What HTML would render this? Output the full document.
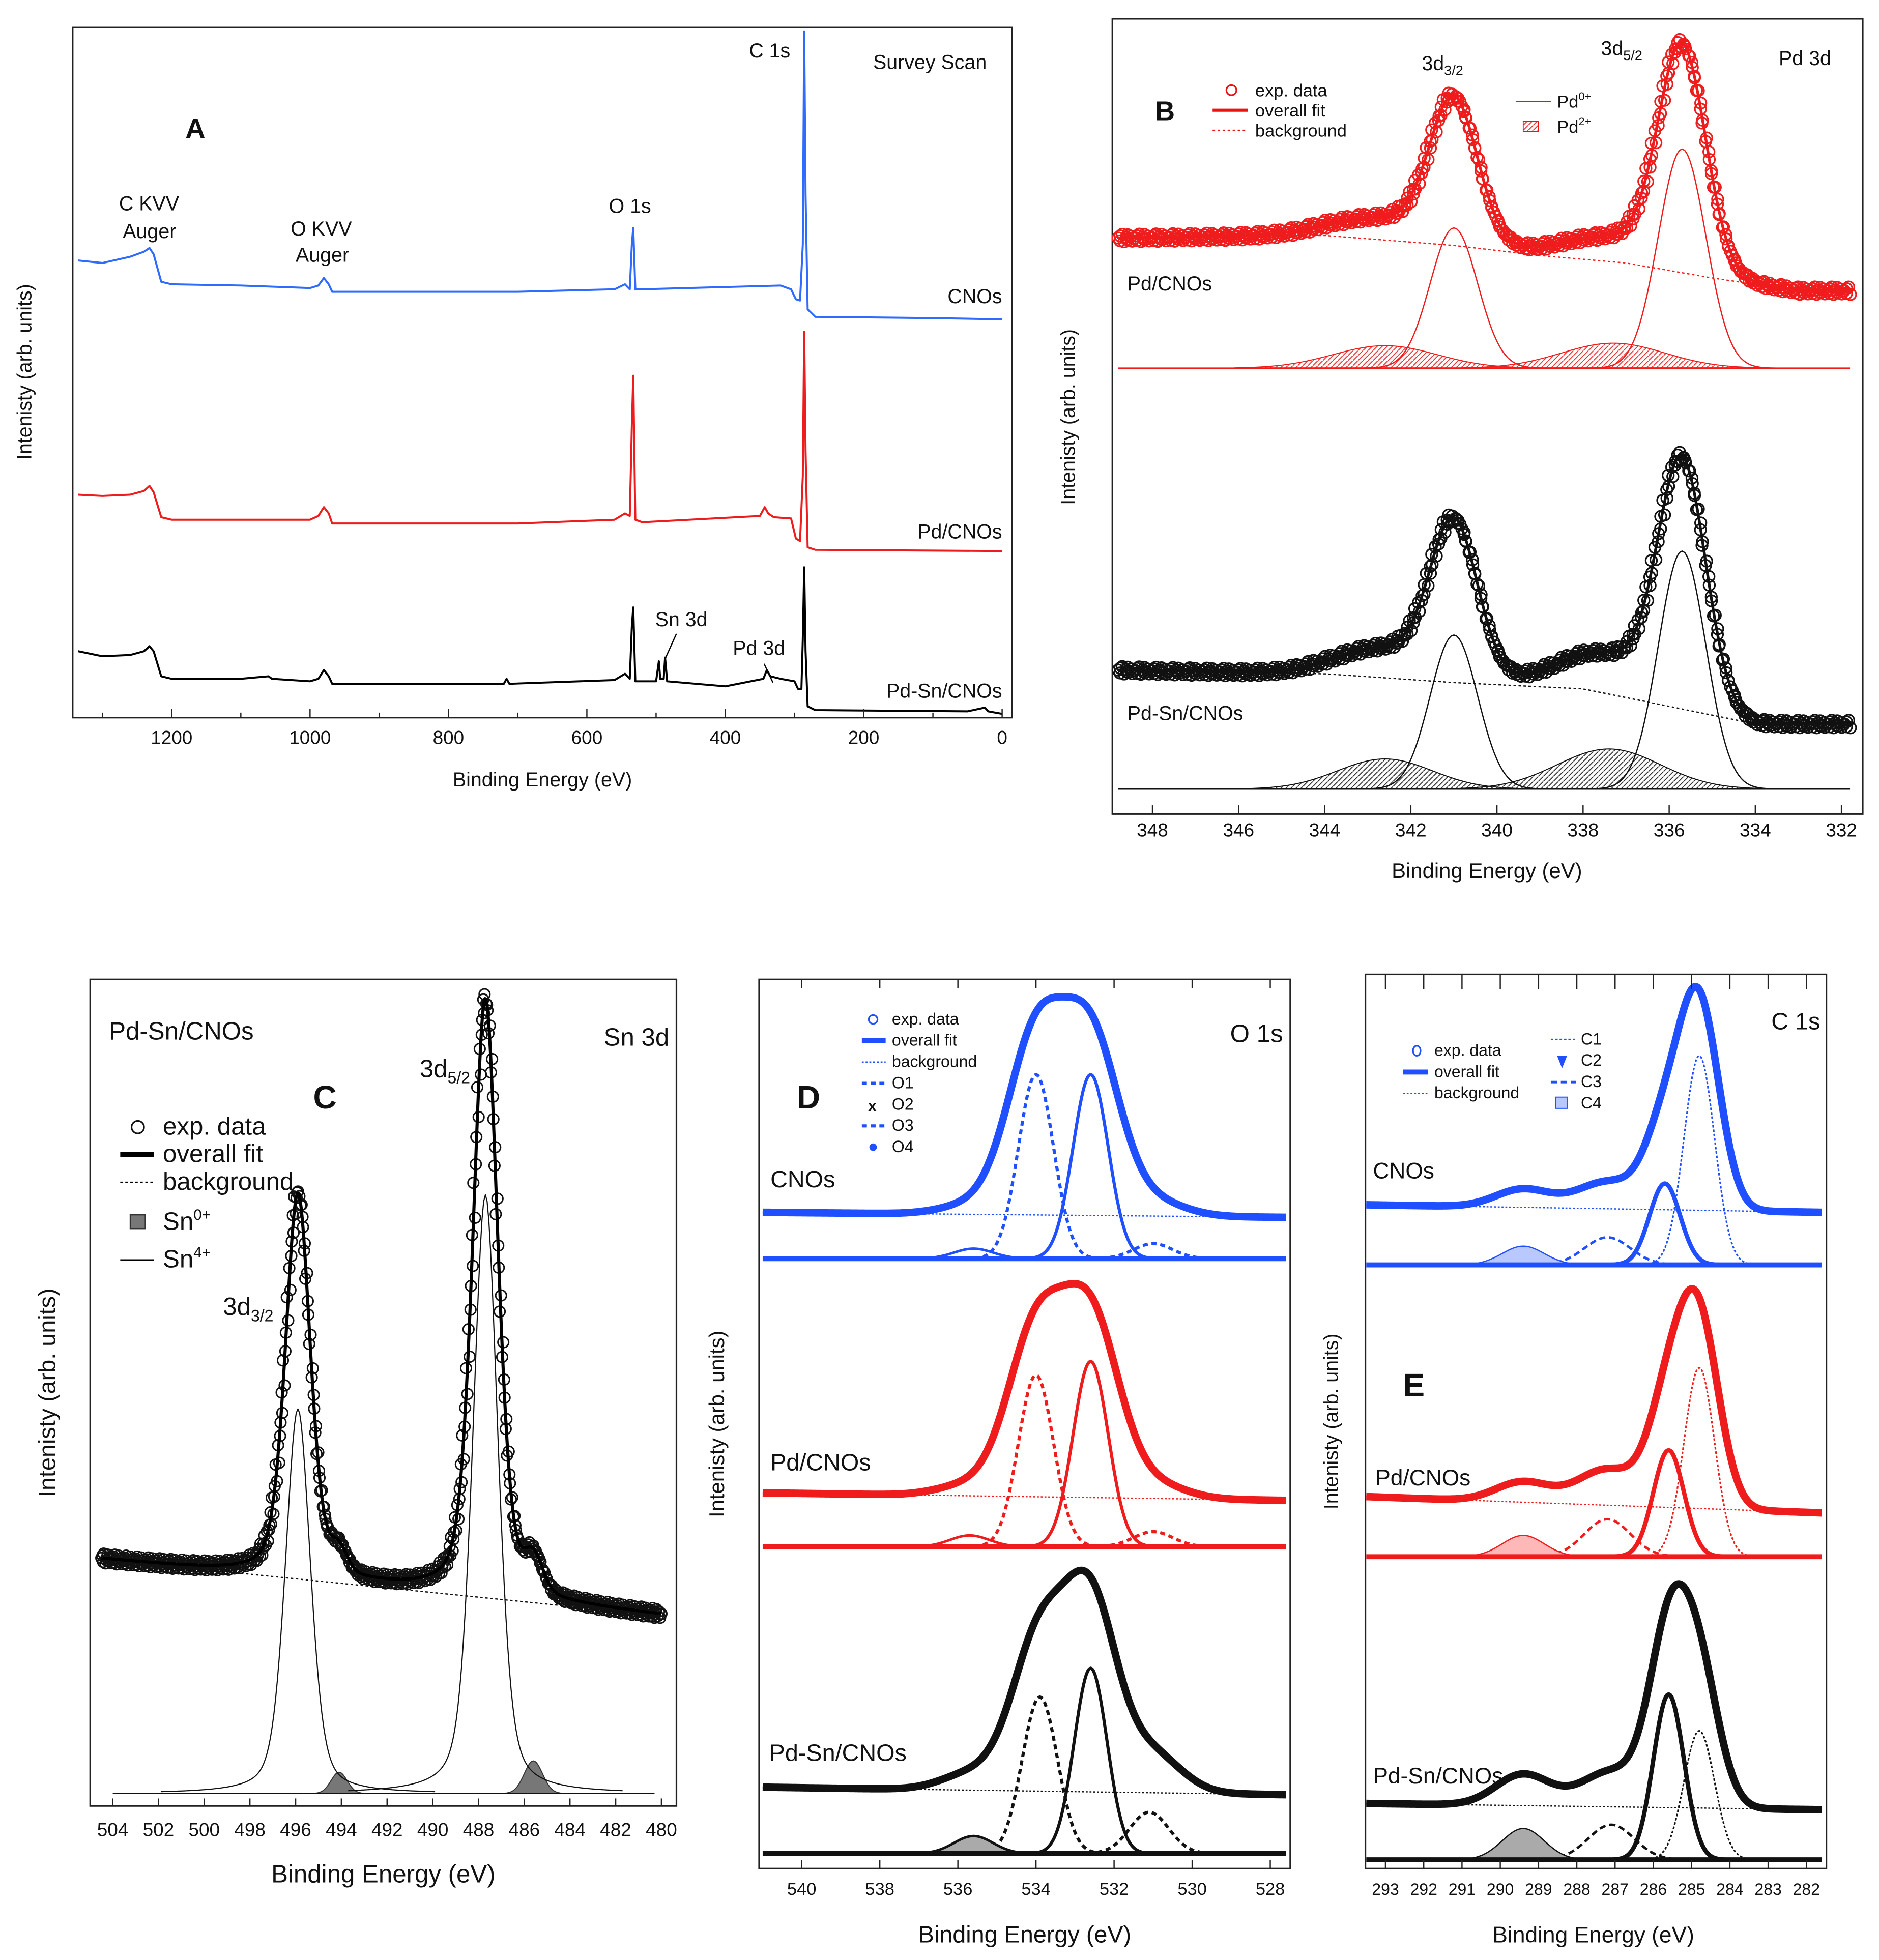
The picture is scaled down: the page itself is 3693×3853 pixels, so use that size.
<!DOCTYPE html>
<html><head><meta charset="utf-8">
<style>
html,body{margin:0;padding:0;background:#fff;}
svg{display:block;}
text{font-family:"Liberation Sans",sans-serif;fill:#111;}
.n{font-family:"Liberation Sans Narrow","Liberation Sans",sans-serif;}
</style></head>
<body>
<svg id="fig" width="3693" height="3853" viewBox="0 0 1500 1565" preserveAspectRatio="none" xmlns="http://www.w3.org/2000/svg">
<defs>
<pattern id="hatchR" patternUnits="userSpaceOnUse" width="4" height="4"><path d="M0,4 L4,0" stroke="#e33" stroke-width="0.8"/></pattern>
<pattern id="hatchK" patternUnits="userSpaceOnUse" width="4" height="4"><path d="M0,4 L4,0" stroke="#333" stroke-width="0.8"/></pattern>
</defs>
</svg>
<script>
// ===== Panel A survey data: [binding energy, intensity] =====
const surveyCNOs=[[1335,47],[1300,45],[1260,50],[1240,54],[1232,57],[1226,52],[1215,30],[1200,28],[1100,27],[1000,25],[988,27],[980,33],[973,28],[968,22],[700,22],[560,24],[545,28],[538,24],[535,60],[533,73],[530,24],[520,24],[320,27],[305,24],[298,16],[292,15],[288,60],[286,230],[284,100],[281,8],[270,2],[100,1],[0,0]];
const surveyPd=[[1335,45],[1300,44],[1260,45],[1240,48],[1232,52],[1226,47],[1215,27],[1200,25],[1100,25],[1000,25],[988,28],[980,35],[973,30],[968,22],[700,22],[560,25],[545,30],[538,28],[535,100],[533,140],[530,25],[520,23],[350,28],[343,35],[338,30],[330,27],[305,26],[298,10],[292,8],[288,60],[286,175],[284,80],[281,3],[270,1],[0,0]];
const surveySnPd=[[1335,50],[1300,46],[1260,47],[1240,50],[1232,54],[1226,50],[1215,30],[1200,28],[1100,28],[1060,30],[1055,28],[1000,26],[988,28],[980,35],[973,30],[968,24],[720,24],[716,28],[712,24],[560,27],[545,32],[538,28],[535,70],[533,85],[530,26],[500,26],[496,42],[494,28],[489,28],[487,45],[484,26],[400,22],[345,28],[340,35],[335,30],[320,28],[300,26],[295,20],[290,20],[288,60],[286,117],[284,50],[281,6],[270,3],[50,2],[25,5],[20,2],[0,0]];
const surveyTicks=[1200,1000,800,600,400,200,0];

// ===== Panel B Pd 3d =====
const bRedPd0=[[341.0,112,0.55],[335.7,175,0.55]];
const bRedPd2=[[342.6,18,1.2],[337.3,20,1.2]];
const bRedBg=[[348.8,104],[344,106],[341,98],[339,90],[337,84],[335,72],[333,62],[331.8,62]];
const bBlkPd0=[[341.0,123,0.55],[335.7,190,0.55]];
const bBlkPd2=[[342.6,24,1.1],[337.4,32,1.2]];
const bBlkBg=[[348.8,95],[344,92],[341,85],[338,80],[336,66],[334,52],[331.8,52]];
const bTicks=[348,346,344,342,340,338,336,334,332];

// ===== Panel C Sn 3d =====
const cSn4=[[495.9,307,0.55],[487.7,478,0.55]];
const cSn0=[[494.1,17,0.35],[485.6,26,0.4]];
const cBg=[[504.5,187],[480,142]];
const cTicks=[504,502,500,498,496,494,492,490,488,486,484,482,480];

// ===== Panel D O 1s =====
const dCNOs=[[534.0,147,0.45],[532.6,147,0.45],[531.0,12,0.5],[535.6,8,0.5]];
const dPd=[[534.0,137,0.45],[532.6,148,0.45],[531.0,12,0.5],[535.7,9,0.5]];
const dPdSn=[[533.9,125,0.45],[532.6,148,0.42],[531.1,33,0.5],[535.6,14,0.5]];
const dBgCNOs=[37,33], dBgPd=[43,37], dBgPdSn=[53,47];
const dTicks=[540,538,536,534,532,530,528];

// ===== Panel E C 1s =====
const eCNOs=[[284.8,167,0.4],[285.7,65,0.4],[287.2,22,0.6],[289.4,15,0.55]];
const ePd=[[284.8,151,0.4],[285.6,85,0.4],[287.2,30,0.6],[289.4,17,0.55]];
const ePdSn=[[284.8,103,0.4],[285.6,132,0.4],[287.1,28,0.6],[289.4,25,0.55]];
const eBgCNOs=[48,42], eBgPd=[48,35], eBgPdSn=[45,40];
const eTicks=[293,292,291,290,289,288,287,286,285,284,283,282];

const NS="http://www.w3.org/2000/svg";
const svg=document.getElementById('fig');
function mk(tag,parent){const e=document.createElementNS(NS,tag);(parent||svg).appendChild(e);return e;}
function txt(s,x,y,size,opts){const t=mk('text');t.setAttribute('x',x);t.setAttribute('y',y);t.setAttribute('font-size',size);
 if(opts&&opts.anchor)t.setAttribute('text-anchor',opts.anchor);if(opts&&opts.weight)t.setAttribute('font-weight',opts.weight);
 if(opts&&opts.cls)t.setAttribute('class',opts.cls);if(opts&&opts.rot)t.setAttribute('transform','rotate(-90 '+x+' '+y+')');
 t.innerHTML=s;return t;}
function gauss(E,c){return c[1]*Math.exp(-(E-c[0])*(E-c[0])/(2*c[2]*c[2]));}
function pvoigt(E,c){const g=c[2]*1.177;return c[1]*(0.6*Math.exp(-(E-c[0])*(E-c[0])/(2*c[2]*c[2]))+0.4*g*g/((E-c[0])*(E-c[0])+g*g));}
function interp(arr,E){for(let i=0;i<arr.length-1;i++){const a=arr[i],b=arr[i+1];if((E<=a[0]&&E>=b[0])||(E>=a[0]&&E<=b[0])){const t=(E-a[0])/(b[0]-a[0]);return a[1]+t*(b[1]-a[1]);}}return arr[arr.length-1][1];}
function path(pts){return pts.map((p,i)=>(i?'L':'M')+p[0].toFixed(2)+','+p[1].toFixed(2)).join('');}
function line(x1,y1,x2,y2,stroke,w,dash){const l=mk('line');l.setAttribute('x1',x1);l.setAttribute('y1',y1);l.setAttribute('x2',x2);l.setAttribute('y2',y2);l.setAttribute('stroke',stroke);l.setAttribute('stroke-width',w);if(dash)l.setAttribute('stroke-dasharray',dash);return l;}
function curve(pts,stroke,w,dash,fill){const p=mk('path');p.setAttribute('d',path(pts)+(fill?'Z':''));p.setAttribute('stroke',stroke);p.setAttribute('stroke-width',w);p.setAttribute('fill',fill||'none');p.setAttribute('stroke-linejoin','round');if(dash)p.setAttribute('stroke-dasharray',dash);return p;}
function frame(x0,y0,x1,y1){const r=mk('rect');r.setAttribute('x',x0);r.setAttribute('y',y0);r.setAttribute('width',x1-x0);r.setAttribute('height',y1-y0);r.setAttribute('fill','none');r.setAttribute('stroke','#222');r.setAttribute('stroke-width',1.3);return r;}
function sample(E0,E1,n,f){const out=[];for(let i=0;i<=n;i++){const E=E0+(E1-E0)*i/n;out.push(f(E));}return out;}
const jit=[0,1.8,-1.2,2.4,-2.2,0.8,-0.4,1.4,-1.9,2.1,-0.9,0.3];

// ================= PANEL A =================
const ax=v=>800-0.5525*v;
let f=frame(58,22,808,573);


[[surveyCNOs,255,'#2f6bff','survey-cnos-line'],[surveyPd,440,'#ee1c1c','survey-pd-cnos-line'],[surveySnPd,570,'#000','survey-pd-sn-cnos-line']].forEach(s=>{
 const c=curve(s[0].map(p=>[ax(p[0]),s[1]-p[1]]),s[2],1.6);
 
 
});
surveyTicks.forEach(v=>{const l=line(ax(v),573,ax(v),566,'#222',1);
 
 
 const t=txt(v,ax(v),594,15,{anchor:'middle'});
 
 });
for(let v=1300;v>0;v-=100){if(v%200){const l=line(ax(v),573,ax(v),569,'#222',1);}}
[['A',148,110,22,'bold','panel-a-label'],['C KVV',95,168,16,null,'c-kvv-label'],['Auger',98,190,16,null,'c-kvv-auger-label'],['O KVV',232,188,16,null,'o-kvv-label'],['Auger',236,209,16,null,'o-kvv-auger-label'],['O 1s',486,170,16,null,'o1s-label'],['C 1s',598,46,16,null,'c1s-label'],['Survey Scan',697,55,16,null,'survey-scan-title'],['Sn 3d',523,500,16,null,'sn3d-label'],['Pd 3d',585,523,16,null,'pd3d-label']].forEach(a=>{
 const t=txt(a[0],a[1],a[2],a[3],{weight:a[4]});
 
 });
[['CNOs',800,242,'cnos-series-label'],['Pd/CNOs',800,430,'pd-cnos-series-label'],['Pd-Sn/CNOs',800,557,'pd-sn-cnos-series-label']].forEach(a=>{
 const t=txt(a[0],a[1],a[2],16,{anchor:'end'});
 
 });
let pl=line(540,506,531,526,'#000',1);


pl=line(610,530,617,545,'#000',1);


let t=txt('Binding Energy (eV)',433,628,16,{anchor:'middle'});


t=txt('Intenisty (arb. units)',25,297,16,{anchor:'middle',rot:true});



// ================= PANEL B =================
const bx=E=>920+(348-E)*34.375;
f=frame(888,15,1487,650);


function drawB(pd0,pd2,bg,base,color,hatch,nm){
 const sum=E=>pd0.reduce((s,c)=>s+gauss(E,c),0)+pd2.reduce((s,c)=>s+gauss(E,c),0);
 pd2.forEach((c,i)=>{const pts=sample(c[0]+3.5,c[0]-3.5,80,E=>[bx(E),base-gauss(E,c)]);
  const a=curve(pts,color,0.8,null,'url(#'+hatch+')');
  
  });
 const bl=line(bx(348.8),base,bx(331.8),base,color,1.2);
 
 
 pd0.forEach(c=>{const pts=sample(c[0]+2.5,c[0]-2.5,80,E=>[bx(E),base-gauss(E,c)]);
  const a=curve(pts,color,1);
  
  });
 const bgp=curve(sample(348.8,331.8,120,E=>[bx(E),base-interp(bg,E)]),color,1,'2,2');
 
 
 const fit=sample(348.8,331.8,520,E=>[bx(E),base-interp(bg,E)-sum(E)]);
 const g=mk('g');
 
 
 for(let i=0;i<fit.length;i++){const c=mk('circle',g);c.setAttribute('cx',fit[i][0]+jit[(i*5)%12]*0.6);c.setAttribute('cy',fit[i][1]+jit[i%12]*1.3);c.setAttribute('r',4.5);c.setAttribute('fill','none');c.setAttribute('stroke',color);c.setAttribute('stroke-width',1.3);}
 const fl=curve(fit,color,2.2);
 
 
}
drawB(bRedPd0,bRedPd2,bRedBg,294,'#ee1c1c','hatchR','b-pd-cnos');
drawB(bBlkPd0,bBlkPd2,bBlkBg,630,'#111','hatchK','b-pd-sn-cnos');
bTicks.forEach(v=>{const l=line(bx(v),650,bx(v),643,'#222',1);
 
 
 const tt=txt(v,bx(v),668,15,{anchor:'middle'});
 
 });
[['B',922,96,22,'bold','panel-b-label'],['Pd 3d',1420,52,16,null,'pd3d-title'],['3d<tspan font-size="11" dy="4">3/2</tspan>',1135,56,16,null,'b-3d32-label'],['3d<tspan font-size="11" dy="4">5/2</tspan>',1278,44,16,null,'b-3d52-label'],['Pd/CNOs',900,232,16,null,'b-pd-cnos-label'],['Pd-Sn/CNOs',900,575,16,null,'b-pd-sn-cnos-label'],['exp. data',1002,77,14,null,'b-legend-exp-data'],['overall fit',1002,93,14,null,'b-legend-overall-fit'],['background',1002,109,14,null,'b-legend-background'],['Pd<tspan font-size="9" dy="-6">0+</tspan>',1243,86,14,null,'b-legend-pd0'],['Pd<tspan font-size="9" dy="-6">2+</tspan>',1243,106,14,null,'b-legend-pd2']].forEach(a=>{
 const tt=txt(a[0],a[1],a[2],a[3],{weight:a[4]});
 
 });
let lc=mk('circle');lc.setAttribute('cx',983);lc.setAttribute('cy',72);lc.setAttribute('r',4);lc.setAttribute('fill','none');lc.setAttribute('stroke','#e11');lc.setAttribute('stroke-width',1.3);


pl=line(968,88,996,88,'#e11',2.5);
pl=line(968,104,996,104,'#e11',1,'2,2');
pl=line(1210,81,1238,81,'#e11',1);
let lr=mk('rect');lr.setAttribute('x',1216);lr.setAttribute('y',97);lr.setAttribute('width',12);lr.setAttribute('height',8);lr.setAttribute('fill','url(#hatchR)');lr.setAttribute('stroke','#e11');lr.setAttribute('stroke-width',0.7);


t=txt('Binding Energy (eV)',1187,701,17,{anchor:'middle'});


t=txt('Intenisty (arb. units)',858,333,16,{anchor:'middle',rot:true});



// ================= PANEL C =================
const cx=E=>90+(504-E)*18.25;
f=frame(72,782,540,1442);


const cBase=1432;
const cSum=E=>cSn4.reduce((s,c)=>s+pvoigt(E,c),0)+cSn0.reduce((s,c)=>s+gauss(E,c),0);
cSn0.forEach(c=>{const a=curve(sample(c[0]+1.3,c[0]-1.3,40,E=>[cx(E),cBase-gauss(E,c)]),'#333',0.8,null,'#777');
 
 });
pl=line(cx(504),cBase,cx(480.3),cBase,'#111',1.2);
cSn4.forEach(c=>{const a=curve(sample(c[0]+6,c[0]-6,160,E=>[cx(E),cBase-pvoigt(E,c)]),'#111',0.9);
 
 });
let cb=curve(sample(504.5,480,60,E=>[cx(E),cBase-interp(cBg,E)]),'#111',1,'2,2');


{const fit=sample(504.5,480,600,E=>[cx(E),cBase-interp(cBg,E)-cSum(E)]);
 const g=mk('g');
 
 
 fit.forEach((p,i)=>{const c=mk('circle',g);c.setAttribute('cx',p[0]+jit[(i*7)%12]*0.5);c.setAttribute('cy',p[1]+jit[i%12]*1.7);c.setAttribute('r',4.3);c.setAttribute('fill','none');c.setAttribute('stroke','#111');c.setAttribute('stroke-width',1.2);});
 const fl=curve(fit,'#000',2.5);
 
 }
cTicks.forEach(v=>{const l=line(cx(v),1442,cx(v),1436,'#222',1);
 
 
 const tt=txt(v,cx(v),1466,15,{anchor:'middle',cls:'n'});
 
 });
[['Pd-Sn/CNOs',87,830,20,null,'c-sample-label'],['Sn 3d',482,835,20,null,'sn3d-title'],['C',250,885,26,'bold','panel-c-label'],['3d<tspan font-size="13" dy="5">5/2</tspan>',335,860,20,null,'c-3d52-label'],['3d<tspan font-size="13" dy="5">3/2</tspan>',178,1050,20,null,'c-3d32-label'],['exp. data',130,906,20,null,'c-legend-exp-data'],['overall fit',130,928,20,null,'c-legend-overall-fit'],['background',130,950,20,null,'c-legend-background'],['Sn<tspan font-size="12" dy="-8">0+</tspan>',130,982,20,null,'c-legend-sn0'],['Sn<tspan font-size="12" dy="-8">4+</tspan>',130,1012,20,null,'c-legend-sn4']].forEach(a=>{
 const tt=txt(a[0],a[1],a[2],a[3],{weight:a[4],cls:'n'});
 
 });
lc=mk('circle');lc.setAttribute('cx',110);lc.setAttribute('cy',900);lc.setAttribute('r',5);lc.setAttribute('fill','none');lc.setAttribute('stroke','#111');lc.setAttribute('stroke-width',1.3);


pl=line(96,922,123,922,'#000',4);
pl=line(96,944,123,944,'#000',1,'2,2');
lr=mk('rect');lr.setAttribute('x',104);lr.setAttribute('y',970);lr.setAttribute('width',12);lr.setAttribute('height',11);lr.setAttribute('fill','#777');lr.setAttribute('stroke','#333');


pl=line(96,1006,123,1006,'#000',1);
t=txt('Binding Energy (eV)',306,1503,20,{anchor:'middle',cls:'n'});


t=txt('Intenisty (arb. units)',44,1112,19,{anchor:'middle',rot:true});



// ================= PANELS D & E generic stacks =================
function stack(xf,E0,E1,comps,bg,base,color,k,w,styles,shade,nm){
 const sum=E=>comps.reduce((s,c)=>s+gauss(E,[c[0],c[1],c[2]*w]),0)*k;
 const bgAt=E=>bg[0]+(bg[1]-bg[0])*(E-E0)/(E1-E0);
 comps.forEach((c,i)=>{
  const pts=sample(Math.min(E0,c[0]+4*c[2]),Math.max(E1,c[0]-4*c[2]),90,E=>[xf(E),base-gauss(E,c)]);
  const a=curve(pts,color,styles[i][0],styles[i][1],i===shade?(color==='#111'?'#aaa':(color==='#1f4fff'?'#b9c8ff':'#ffb8b8')):null);
  
  
 });
 const bl=line(xf(E0),base,xf(E1),base,color,4);
 
 
 const bgl=line(xf(E0),base-bg[0],xf(E1),base-bg[1],color,1,'1.5,1.5');
 
 
 const fit=sample(E0,E1,300,E=>[xf(E),base-bgAt(E)-sum(E)]);
 const d=curve(fit,color,6);
 
 
 const fl=curve(fit,color,2);
 
 
}
// D
const dx=E=>640+(540-E)*31.17;
f=frame(606,782,1030,1492);


const dStyles=[[2.5,'4,3'],[2.5,null],[2.5,'4,3'],[2,null]];
stack(dx,541,527.6,dCNOs,dBgCNOs,1005,'#1f4fff',0.95,1.6,dStyles,-1,'d-cnos');
stack(dx,541,527.6,dPd,dBgPd,1235,'#ee1c1c',0.95,1.6,dStyles,-1,'d-pd-cnos');
stack(dx,541,527.6,dPdSn,dBgPdSn,1480,'#111',0.98,1.55,dStyles,3,'d-pd-sn-cnos');
dTicks.forEach(v=>{const l=line(dx(v),1492,dx(v),1485,'#222',1);
 
 
 const l2=line(dx(v),782,dx(v),789,'#222',1);
 
 
 const tt=txt(v,dx(v),1513,14,{anchor:'middle',cls:'n'});
 
 });
[['O 1s',982,832,20,null,'o1s-title'],['D',636,885,26,'bold','panel-d-label'],['CNOs',615,948,19,null,'d-cnos-label'],['Pd/CNOs',615,1174,19,null,'d-pd-cnos-label'],['Pd-Sn/CNOs',614,1406,19,null,'d-pd-sn-cnos-label'],['exp. data',712,818,13,null,'d-legend-exp'],['overall fit',712,835,13,null,'d-legend-fit'],['background',712,852,13,null,'d-legend-bg'],['O1',712,869,13,null,'d-legend-o1'],['O2',712,886,13,null,'d-legend-o2'],['O3',712,903,13,null,'d-legend-o3'],['O4',712,920,13,null,'d-legend-o4']].forEach(a=>{
 const tt=txt(a[0],a[1],a[2],a[3],{weight:a[4],cls:'n'});
 
 });
lc=mk('circle');lc.setAttribute('cx',697);lc.setAttribute('cy',814);lc.setAttribute('r',3.5);lc.setAttribute('fill','none');lc.setAttribute('stroke','#1f4fff');lc.setAttribute('stroke-width',1.3);


pl=line(688,831,707,831,'#1f4fff',4);
pl=line(688,848,707,848,'#1f4fff',1,'1.5,1.5');
pl=line(688,865,707,865,'#1f4fff',2.5,'4,3');
t=txt('x',693,887,12,{weight:'bold'});t.setAttribute('fill','#1f4fff');
pl=line(688,899,707,899,'#1f4fff',2.5,'4,3');
lc=mk('circle');lc.setAttribute('cx',697);lc.setAttribute('cy',916);lc.setAttribute('r',3);lc.setAttribute('fill','#1f4fff');


t=txt('Binding Energy (eV)',818,1551,19,{anchor:'middle',cls:'n'});


t=txt('Intenisty (arb. units)',578,1137,17,{anchor:'middle',rot:true});



// E
const ex=E=>1106+(293-E)*30.55;
f=frame(1090,778,1458,1492);


const eStyles=[[1.3,'2,1.5'],[3.5,null],[2,'5,3'],[1,null]];
stack(ex,293.5,281.6,eCNOs,eBgCNOs,1010,'#1f4fff',0.97,1.3,eStyles,3,'e-cnos');
stack(ex,293.5,281.6,ePd,eBgPd,1243,'#ee1c1c',0.95,1.3,eStyles,3,'e-pd-cnos');
stack(ex,293.5,281.6,ePdSn,eBgPdSn,1485,'#111',1.0,1.3,eStyles,3,'e-pd-sn-cnos');
eTicks.forEach(v=>{const l=line(ex(v),1492,ex(v),1485,'#222',1);
 
 
 const l2=line(ex(v),778,ex(v),790,'#222',1);
 
 
 const tt=txt(v,ex(v),1513,13,{anchor:'middle',cls:'n'});
 
 });
[['C 1s',1414,822,19,null,'c1s-title'],['E',1120,1115,26,'bold','panel-e-label'],['CNOs',1096,941,18,null,'e-cnos-label'],['Pd/CNOs',1098,1186,18,null,'e-pd-cnos-label'],['Pd-Sn/CNOs',1096,1424,18,null,'e-pd-sn-cnos-label'],['exp. data',1145,843,13,null,'e-legend-exp'],['overall fit',1145,860,13,null,'e-legend-fit'],['background',1145,877,13,null,'e-legend-bg'],['C1',1262,834,13,null,'e-legend-c1'],['C2',1262,851,13,null,'e-legend-c2'],['C3',1262,868,13,null,'e-legend-c3'],['C4',1262,885,13,null,'e-legend-c4']].forEach(a=>{
 const tt=txt(a[0],a[1],a[2],a[3],{weight:a[4],cls:'n'});
 
 });
lc=mk('ellipse');lc.setAttribute('cx',1131);lc.setAttribute('cy',839);lc.setAttribute('rx',3);lc.setAttribute('ry',4);lc.setAttribute('fill','none');lc.setAttribute('stroke','#1f4fff');lc.setAttribute('stroke-width',1.3);


pl=line(1120,856,1140,856,'#1f4fff',4);
pl=line(1120,873,1140,873,'#1f4fff',1,'1.5,1.5');
pl=line(1238,830,1258,830,'#1f4fff',1.3,'2,1.5');
let tri=mk('path');tri.setAttribute('d','M1243,843 L1251,843 L1247,853 Z');tri.setAttribute('fill','#1f4fff');


pl=line(1238,864,1258,864,'#1f4fff',2,'5,3');
lr=mk('rect');lr.setAttribute('x',1242);lr.setAttribute('y',876);lr.setAttribute('width',9);lr.setAttribute('height',9);lr.setAttribute('fill','#b9c8ff');lr.setAttribute('stroke','#1f4fff');lr.setAttribute('stroke-width',0.8);


t=txt('Binding Energy (eV)',1272,1551,18,{anchor:'middle',cls:'n'});


t=txt('Intenisty (arb. units)',1068,1135,16,{anchor:'middle',rot:true});


</script>
</body></html>
